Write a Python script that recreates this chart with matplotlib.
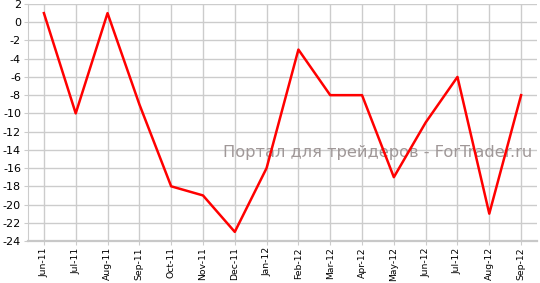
import matplotlib
matplotlib.use("Agg")
import matplotlib.pyplot as plt

months = ["Jun-11", "Jul-11", "Aug-11", "Sep-11", "Oct-11", "Nov-11", "Dec-11", "Jan-12",
          "Feb-12", "Mar-12", "Apr-12", "May-12", "Jun-12", "Jul-12", "Aug-12", "Sep-12"]
values = [1, -10, 1, -9, -18, -19, -23, -16, -3, -8, -8, -17, -11, -6, -21, -8]
y_ticks = list(range(-24, 3, 2))

fig = plt.figure(figsize=(5.4, 2.83), dpi=100)
ax = fig.add_axes([28 / 540, 1 - 241 / 283, 509 / 540, 237 / 283])

x = list(range(len(months)))
ax.plot(x, values, color="#ff0000", linewidth=1.8, zorder=3)

ax.set_xlim(-0.5, len(months) - 0.5)
ax.set_ylim(-24, 2)
ax.set_xticks(x)
ax.set_xticklabels(months, rotation=90, fontsize=6.7)
ax.set_yticks(y_ticks)
ax.set_yticklabels([str(v) for v in y_ticks], fontsize=8)

ax.grid(True, color="#cccccc", linewidth=1)
ax.tick_params(axis="both", length=3, color="#cccccc", pad=2)
ax.tick_params(axis="x", pad=1.5)
for side in ["top", "right"]:
    ax.spines[side].set_visible(False)
ax.spines["left"].set_color("#cccccc")
ax.spines["bottom"].set_color("#c8c8c8")
ax.spines["bottom"].set_linewidth(1.6)

ax.text(0.99, 0.375, "Портал для трейдеров - ForTrader.ru", transform=ax.transAxes,
        ha="right", va="center", fontsize=11.7, color="#a09898", zorder=2)

fig.savefig("out.png", dpi=100)
